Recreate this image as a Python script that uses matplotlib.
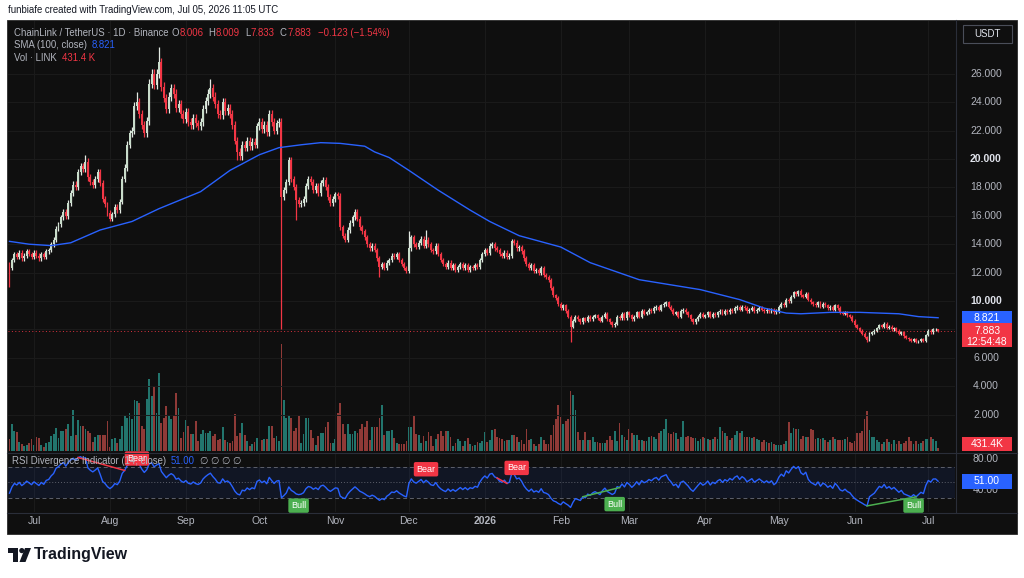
import datetime as dt
import numpy as np
import matplotlib
matplotlib.use("Agg")
import matplotlib.pyplot as plt
import matplotlib.dates as mdates
from matplotlib.patches import Rectangle, Polygon, Ellipse

W, H = 1024, 578
plt.rcParams['font.family'] = ['Liberation Sans', 'DejaVu Sans']

# ---------------- data ----------------
first_day = dt.date(2025, 6, 21)

# a few closes before the visible window, only used to warm up the RSI
warmup_closes = [13.9, 14.0, 13.8, 14.1, 13.6, 13.2, 13.7, 14.0, 14.6, 14.8,
                 14.9, 14.0, 13.3, 13.5, 13.4, 13.5, 13.1, 12.8, 12.9, 12.6]

closes = [
    12.3, 12.9, 13.3, 13.1, 13.4, 13.0, 13.2, 13.5, 13.3, 13.1,
    13.4, 13.2, 13.0, 13.3, 13.1, 13.5, 13.6, 14.0, 14.3, 15.1,
    15.4, 15.9, 16.3, 16.0, 16.9, 17.6, 18.2, 18.0, 19.1, 19.5,
    19.3, 19.8, 18.7, 18.4, 18.2, 18.6, 19.1, 18.3, 17.2, 16.8,
    16.2, 15.8, 16.1, 16.6, 16.4, 17.0, 18.6, 19.4, 21.0, 21.8,
    22.0, 23.7, 24.0, 23.2, 22.4, 21.8, 22.7, 25.3, 26.0, 25.2,
    26.0, 26.8, 25.1, 24.3, 23.5, 24.4, 25.0, 24.6, 23.6, 23.9,
    23.2, 22.8, 23.3, 22.6, 22.4, 22.9, 22.5, 22.3, 22.6, 23.5,
    24.1, 24.6, 25.0, 24.4, 23.9, 23.2, 23.1, 24.0, 23.4, 23.6,
    23.2, 22.4, 21.3, 20.5, 20.2, 21.0, 20.8, 21.3, 20.9, 21.2,
    21.0, 22.3, 22.6, 22.1, 22.4, 21.9, 23.2, 22.6, 22.0, 22.5,
    22.6, 17.3, 17.8, 18.4, 19.9, 18.6, 18.0, 17.1, 16.8, 16.9,
    17.2, 18.1, 18.6, 18.4, 17.8, 18.1, 17.6, 18.3, 18.5, 18.0,
    17.3, 16.9, 17.2, 17.5, 17.4, 15.2, 14.6, 14.3, 15.0, 15.5,
    15.9, 16.3, 15.8, 15.2, 14.9, 14.5, 14.0, 13.7, 13.9, 13.6,
    13.0, 12.4, 12.6, 12.3, 12.7, 12.9, 13.2, 13.1, 13.3, 12.9,
    12.6, 12.3, 12.1, 13.7, 14.5, 14.0, 13.8, 14.1, 14.4, 13.9,
    14.3, 14.0, 13.6, 13.5, 13.9, 13.3, 12.9, 12.6, 12.4, 12.7,
    12.3, 12.5, 12.2, 12.4, 12.6, 12.3, 12.5, 12.2, 12.4, 12.3,
    12.5, 12.4, 12.9, 13.3, 13.6, 13.4, 13.9, 14.0, 13.7, 13.6,
    13.3, 13.2, 13.4, 13.1, 13.2, 14.2, 14.1, 13.7, 13.8, 13.5,
    13.0, 12.6, 12.3, 12.5, 12.1, 12.2, 12.0, 12.3, 11.8, 11.7,
    11.5, 10.9, 10.4, 10.2, 9.8, 9.5, 9.7, 9.3, 8.9, 8.2,
    8.6, 8.9, 8.7, 8.5, 8.8, 8.6, 8.9, 8.7, 8.9, 9.0,
    8.8, 8.6, 8.9, 9.1, 8.7, 8.5, 8.3, 8.4, 8.9, 8.8,
    9.1, 8.8, 9.2, 9.0, 8.7, 8.9, 9.2, 8.9, 9.3, 9.1,
    9.2, 9.4, 9.3, 9.5, 9.6, 9.4, 9.7, 9.8, 9.9, 9.6,
    9.4, 9.1, 9.2, 8.9, 9.3, 9.4, 9.2, 9.0, 8.7, 8.5,
    8.7, 8.9, 9.1, 8.9, 9.0, 9.2, 8.9, 9.1, 9.0, 9.2,
    9.3, 9.1, 9.3, 9.2, 9.4, 9.3, 9.5, 9.6, 9.4, 9.6,
    9.5, 9.3, 9.4, 9.5, 9.3, 9.4, 9.5, 9.4, 9.3, 9.4,
    9.3, 9.4, 9.2, 9.3, 9.6, 9.8, 9.7, 10.1, 10.0, 10.3,
    10.6, 10.5, 10.7, 10.4, 10.3, 10.5, 10.1, 9.9, 9.8, 9.7,
    9.9, 9.6, 9.8, 9.7, 9.5, 9.6, 9.4, 9.7, 9.5, 9.2,
    9.1, 9.2, 9.0, 8.9, 8.6, 8.3, 8.1, 7.9, 7.7, 7.45,
    7.25, 7.7, 7.8, 7.9, 8.1, 8.3, 8.2, 8.4, 8.1, 8.2,
    8.0, 8.1, 7.9, 7.7, 7.8, 7.5, 7.4, 7.3, 7.2, 7.3,
    7.1, 7.2, 7.3, 7.2, 7.6, 7.9, 7.8, 8.0, 8.006, 7.883,
]

# volume in millions of LINK
volumes = [
    1.7, 3.9, 2.9, 2.7, 1.3, 1.0, 0.7, 0.9, 1.2, 1.7,
    0.9, 2.0, 1.9, 0.9, 0.6, 1.2, 1.3, 2.2, 2.4, 3.3,
    1.9, 2.9, 2.9, 3.2, 3.9, 2.2, 5.9, 2.3, 4.5, 3.6,
    3.6, 3.2, 2.9, 2.6, 1.3, 2.0, 2.3, 2.3, 2.3, 2.3,
    4.3, 0.6, 1.7, 1.9, 1.2, 1.7, 3.6, 5.0, 4.8, 5.5,
    4.6, 7.3, 7.2, 6.9, 3.6, 3.2, 7.5, 10.4, 7.9, 9.4,
    5.5, 11.2, 4.0, 4.8, 6.5, 5.2, 4.6, 5.2, 8.4, 6.2,
    1.9, 2.7, 4.5, 3.6, 2.4, 2.4, 4.3, 1.4, 2.4, 3.0,
    2.6, 2.6, 2.9, 2.2, 2.4, 1.6, 1.7, 3.5, 1.6, 1.3,
    1.2, 1.4, 5.3, 2.2, 2.6, 4.0, 2.3, 1.4, 0.7, 1.0,
    1.3, 1.9, 1.2, 1.6, 1.7, 1.7, 3.6, 3.6, 1.9, 2.2,
    1.4, 15.4, 7.3, 4.8, 5.2, 4.8, 2.9, 3.3, 5.0, 1.2,
    2.4, 4.8, 4.8, 3.0, 1.9, 0.9, 2.2, 2.6, 2.6, 3.5,
    4.2, 1.2, 1.2, 1.7, 5.5, 6.9, 3.9, 2.4, 3.9, 2.4,
    2.4, 2.9, 2.6, 3.2, 3.9, 3.5, 4.3, 1.6, 3.5, 3.5,
    3.5, 4.8, 6.6, 2.3, 2.9, 2.9, 3.0, 1.9, 1.2, 1.0,
    1.0, 1.0, 1.4, 3.5, 3.5, 5.0, 2.4, 2.3, 1.2, 2.2,
    1.4, 2.7, 2.2, 0.7, 1.7, 2.4, 2.9, 2.2, 2.9, 2.9,
    2.0, 0.7, 1.2, 1.7, 1.4, 0.7, 1.4, 1.9, 1.0, 0.7,
    0.9, 1.3, 1.2, 1.4, 2.7, 1.3, 1.6, 3.0, 3.2, 2.0,
    1.9, 1.7, 1.4, 1.6, 1.6, 2.3, 2.3, 2.0, 1.3, 1.6,
    1.0, 3.2, 1.6, 1.7, 1.0, 0.7, 1.0, 2.0, 1.6, 1.0,
    1.0, 2.3, 3.7, 4.6, 6.6, 4.9, 3.9, 4.3, 4.6, 8.6,
    8.1, 5.9, 2.7, 1.6, 1.6, 2.7, 1.6, 1.6, 2.0, 1.3,
    1.3, 1.2, 1.2, 1.2, 1.6, 2.2, 1.6, 2.9, 1.4, 4.0,
    2.3, 2.0, 1.6, 3.2, 2.6, 2.3, 2.3, 1.6, 1.6, 1.4,
    1.4, 2.0, 2.2, 2.0, 1.7, 2.6, 2.9, 3.2, 4.6, 2.6,
    2.4, 2.7, 2.6, 1.7, 2.0, 4.3, 2.0, 2.2, 2.0, 1.9,
    1.9, 1.4, 1.7, 2.0, 1.9, 1.7, 1.6, 1.7, 2.0, 1.7,
    3.5, 2.9, 2.6, 2.2, 1.6, 1.9, 2.3, 2.9, 2.6, 2.9,
    2.0, 2.0, 2.0, 1.9, 2.0, 1.7, 1.6, 1.3, 1.6, 1.3,
    1.2, 1.3, 1.0, 0.9, 0.9, 0.9, 1.0, 1.4, 4.2, 2.6,
    3.3, 3.2, 3.2, 1.7, 2.2, 2.0, 2.0, 3.2, 3.0, 1.7,
    1.9, 1.7, 1.9, 1.6, 1.3, 1.6, 2.0, 1.7, 1.6, 1.6,
    1.6, 1.7, 2.0, 1.3, 1.2, 1.4, 2.6, 2.6, 2.9, 4.6,
    5.8, 3.0, 2.0, 2.0, 1.6, 1.3, 1.0, 1.3, 1.7, 1.3,
    1.0, 1.6, 1.0, 1.4, 1.0, 1.2, 1.4, 2.0, 1.4, 1.0,
    1.4, 1.0, 1.2, 1.4, 1.7, 1.7, 2.0, 1.7, 1.4, 0.4314,
]

# notable wick extremes (day index -> price)
wick_high = {31: 20.3, 52: 24.7, 61: 27.9, 82: 25.6, 163: 14.9, 170: 15.0,
             268: 10.0, 322: 10.8, 379: 8.009}
wick_low = {0: 11.0, 93: 19.9, 111: 8.0, 117: 15.7, 151: 11.7, 229: 7.1,
            350: 7.1, 379: 7.833}

# SMA(100, close)
sma_days = [0, 8, 17, 25, 37, 50, 61, 78, 90, 102, 110, 119, 127, 135, 145,
            149, 155, 163, 175, 188, 196, 208, 225, 237, 257, 282, 298, 308,
            317, 323, 335, 347, 363, 371, 379]
sma_vals = [14.2, 14.0, 13.9, 14.1, 15.0, 15.6, 16.5, 17.7, 19.2, 20.3, 20.8,
            21.0, 21.15, 21.1, 20.9, 20.5, 20.1, 19.2, 17.8, 16.4, 15.6, 14.6,
            13.8, 12.7, 11.5, 10.8, 10.1, 9.5, 9.15, 9.1, 9.2, 9.2, 9.1, 8.9,
            8.821]

rsi_last = 51.00

# kind, first pivot, second pivot, label bar
divergences = [
    ("Bear", 28, 47, 52),
    ("Bull", None, None, 118),
    ("Bear", None, None, 170),
    ("Bear", 199, 203, 207),
    ("Bull", 234, 249, 247),
    ("Bull", 350, 370, 369),
]

month_ticks = [dt.date(2025, m, 1) for m in range(7, 13)] + \
              [dt.date(2026, m, 1) for m in range(1, 8)]
month_labels = ['Jul', 'Aug', 'Sep', 'Oct', 'Nov', 'Dec', '2026',
                'Feb', 'Mar', 'Apr', 'May', 'Jun', 'Jul']
price_ticks = [2, 4, 6, 8, 10, 12, 14, 16, 18, 20, 22, 24, 26]
rsi_ticks = [40, 80]

# ---------------- colours ----------------
BG = '#0f0f0f'
UP = '#c8dcca'
UP_WICK = '#e2e9e2'
DOWN = '#f23645'
VOL_UP = '#22756d'
VOL_DOWN = '#8f3a37'
BLUE = '#2962ff'
GREEN = '#4caf50'
TXT = '#b2b5be'
GRID = '#1b1b1b'
SEP = '#2a2e39'

# ---------------- derived series ----------------
closes = np.array(closes)
volumes = np.array(volumes)
n = len(closes)
x = np.array([mdates.date2num(first_day + dt.timedelta(days=i)) for i in range(n)])
opens = np.r_[warmup_closes[-1], closes[:-1]]
up = closes >= opens
WICK = 0.012
highs = np.maximum(opens, closes) * (1 + WICK)
lows = np.minimum(opens, closes) * (1 - WICK)
for k, v in wick_high.items():
    highs[k] = v
for k, v in wick_low.items():
    lows[k] = v

allc = np.r_[warmup_closes, closes]
diff = np.diff(allc)
gain = np.clip(diff, 0, None)
loss = np.clip(-diff, 0, None)
P = 14
ag, al = gain[:P].mean(), loss[:P].mean()
rsi_all = np.full(len(allc), np.nan)
rsi_all[P] = 100 - 100 / (1 + ag / al)
for k in range(P, len(diff)):
    ag = (ag * (P - 1) + gain[k]) / P
    al = (al * (P - 1) + loss[k]) / P
    rsi_all[k + 1] = 100 - 100 / (1 + ag / al)
rsi = rsi_all[len(warmup_closes):]

sma_x = [x[d] for d in sma_days]
tick_x = [mdates.date2num(d) for d in month_ticks]

# ---------------- layout ----------------
fig = plt.figure(figsize=(W / 100, H / 100), dpi=100)
fig.patch.set_facecolor('white')


def fpx(px, py):
    return px / W, 1 - py / H


def add_ax(x0, y0, x1, y1):
    a = fig.add_axes([x0 / W, 1 - y1 / H, (x1 - x0) / W, (y1 - y0) / H])
    a.set_facecolor('none')
    for s in a.spines.values():
        s.set_visible(False)
    a.set_xticks([])
    a.set_yticks([])
    return a


fig.add_artist(Rectangle(fpx(7, 534), 1010 / W, 514 / H, transform=fig.transFigure,
                         fc=BG, ec='#2b2b2b', lw=0.6, zorder=-5))

XL = (x[0] - 0.61, x[0] + 385.9)
PRICE_LIM = (-0.634, 29.718)
VOL_LIM = (0, 21.7)
RSI_LIM = (11.6, 87.7)

vax = add_ax(8, 300, 955, 451)
ax = add_ax(8, 21, 955, 452)
rax = add_ax(8, 453, 955, 512)
for a in (vax, ax, rax):
    a.set_xlim(XL)
ax.set_ylim(PRICE_LIM)
vax.set_ylim(VOL_LIM)
rax.set_ylim(RSI_LIM)
upp_price = (PRICE_LIM[1] - PRICE_LIM[0]) / 431
upp_vol = (VOL_LIM[1] - VOL_LIM[0]) / 151
upp_rsi = (RSI_LIM[1] - RSI_LIM[0]) / 59

# grid
for tx in tick_x:
    ax.axvline(tx, color=GRID, lw=0.7, zorder=0)
    rax.axvline(tx, color=GRID, lw=0.7, zorder=0)
for p in price_ticks:
    ax.axhline(p, color=GRID, lw=0.7, zorder=0)

# separators
for y in (452.5, 512.5):
    fig.add_artist(plt.Line2D([7 / W, 1017 / W], [1 - y / H] * 2, color=SEP, lw=0.8))
fig.add_artist(plt.Line2D([955.5 / W] * 2, [1 - 20 / H, 1 - 512 / H], color=SEP, lw=0.8))

# volume
vax.bar(x, volumes, width=0.74, color=np.where(up, VOL_UP, VOL_DOWN), lw=0)

# candles
body_lo = np.minimum(opens, closes)
body_h = np.maximum(np.abs(closes - opens), 0.06)
ax.vlines(x, lows, highs, colors=np.where(up, UP_WICK, DOWN), lw=0.9, zorder=2)
ax.bar(x, body_h, bottom=body_lo, width=0.8, color=np.where(up, UP, DOWN),
       lw=0, zorder=3)

# SMA and last price line
ax.plot(sma_x, sma_vals, color=BLUE, lw=1.0, zorder=4)
ax.axhline(closes[-1], color=DOWN, lw=0.7, ls=(0, (1, 2.5)), alpha=0.9, zorder=1)

# price axis labels
ytr = ax.get_yaxis_transform()
for p in price_ticks:
    bold = p in (10, 20)
    ax.text(1.0327, p, f"{p:.3f}", transform=ytr, ha='center', va='center',
            fontsize=7.5, color='#e0e3eb' if bold else TXT,
            fontweight='bold' if bold else 'normal', clip_on=False)

BX0, BXW = (962 - 8) / 947, 50 / 947


def side_box(a, upp, val, top_px, bot_px, fc, lines):
    tr = a.get_yaxis_transform()
    a.add_patch(Rectangle((BX0, val - bot_px * upp), BXW, (top_px + bot_px) * upp,
                          transform=tr, fc=fc, ec='none', clip_on=False, zorder=20))
    for s, off in lines:
        a.text(BX0 + BXW / 2, val - off * upp, s, transform=tr, ha='center',
               va='center', fontsize=7.5, color='white', clip_on=False, zorder=21)


side_box(ax, upp_price, sma_vals[-1], 7, 7, BLUE, [(f"{sma_vals[-1]:.3f}", 0)])
side_box(ax, upp_price, closes[-1], 8, 16, DOWN,
         [(f"{closes[-1]:.3f}", 0), ("12:54:48", 10.5)])
vol_lbl = max(volumes[-1], 7 * upp_vol)
side_box(vax, upp_vol, vol_lbl, 7, 7, DOWN, [(f"{volumes[-1] * 1000:.1f}K", 0)])

# USDT box
fig.add_artist(Rectangle(fpx(963, 43), 49 / W, 18 / H, transform=fig.transFigure,
                         fc=BG, ec='#4a4e59', lw=0.8))
fig.text(987.5 / W, 1 - 34 / H, "USDT", ha='center', va='center', fontsize=7,
         color='#e0e3eb')

# ---------------- RSI pane ----------------
rax.axhspan(30, 70, color=BLUE, alpha=0.09, lw=0, zorder=0)
for lvl, ls in ((70, (0, (4, 3))), (30, (0, (4, 3))), (50, (0, (1, 2)))):
    rax.axhline(lvl, color='#5d606b', lw=0.7, ls=ls, zorder=1)
rax.plot(x, rsi, color=BLUE, lw=1.0, zorder=3)
rtr = rax.get_yaxis_transform()
for t in rsi_ticks:
    rax.text(1.0327, t, f"{t:.2f}", transform=rtr, ha='center', va='center',
             fontsize=7.5, color=TXT, clip_on=False)
side_box(rax, upp_rsi, rsi_last, 7.5, 7.5, BLUE, [(f"{rsi_last:.2f}", 0)])

lab_top = RSI_LIM[1] - 5.5 * upp_rsi
lab_bot = RSI_LIM[0] + 5.5 * upp_rsi
for kind, a, b, lab in divergences:
    col = DOWN if kind == "Bear" else GREEN
    if a is not None:
        rax.plot([x[a], x[b]], [rsi[a], rsi[b]], color=col, lw=1.1, zorder=4)
    sgn = 1 if kind == "Bear" else -1
    ly = min(max(rsi[lab] + sgn * 11 * upp_rsi, lab_bot), lab_top)
    rax.text(x[lab], ly, kind, ha='center', va='center',
             fontsize=6.5, color='white', zorder=6,
             bbox=dict(boxstyle='round,pad=0.3,rounding_size=0.2', fc=col, ec='none'))

# time axis
for tx, lbl in zip(tick_x, month_labels):
    rax.text(tx, -0.16, lbl, transform=rax.get_xaxis_transform(), ha='center',
             va='center', fontsize=7.5, color=TXT,
             fontweight='bold' if lbl.isdigit() else 'normal', clip_on=False)

# ---------------- legends / header ----------------
renderer = fig.canvas.get_renderer()


def run(px, py, pieces, size=6.9):
    for s, col, gap in pieces:
        t = fig.text(px / W, 1 - py / H, s, color=col, fontsize=size,
                     ha='left', va='center')
        px = t.get_window_extent(renderer).x1 + gap


fig.text(8 / W, 1 - 10 / H, "funbiafe created with TradingView.com, Jul 05, 2026 11:05 UTC",
         fontsize=6.9, color='#131722', ha='left', va='center')

o, c = opens[-1], closes[-1]
chg = c - o
run(14, 33, [("ChainLink / TetherUS · 1D · Binance", TXT, 3),
             ("O", TXT, 0.5), (f"{o:.3f}", DOWN, 5),
             ("H", TXT, 0.5), (f"{highs[-1]:.3f}", DOWN, 5),
             ("L", TXT, 0.5), (f"{lows[-1]:.3f}", DOWN, 5),
             ("C", TXT, 0.5), (f"{c:.3f}", DOWN, 7),
             (f"{chg:+.3f} ({chg / o * 100:+.2f}%)".replace('-', '\u2212'), DOWN, 0)])
run(14, 45, [("SMA (100, close)", TXT, 5), (f"{sma_vals[-1]:.3f}", BLUE, 0)])
run(14, 58, [("Vol · LINK", TXT, 5), (f"{volumes[-1] * 1000:.1f} K", DOWN, 0)])
run(12, 461, [("RSI Divergence Indicator (14, close)", TXT, 5),
              (f"{rsi_last:.2f}", BLUE, 5), ("∅ ∅ ∅ ∅", TXT, 0)])

# ---------------- TradingView logo ----------------
ink = '#131722'
fig.add_artist(Polygon([fpx(8, 548), fpx(18, 548), fpx(18, 562), fpx(13, 562),
                        fpx(13, 553), fpx(8, 553)], closed=True,
                       transform=fig.transFigure, fc=ink, ec='none'))
fig.add_artist(Ellipse(fpx(21.8, 550.6), 5.2 / W, 5.2 / H,
                       transform=fig.transFigure, fc=ink, ec='none'))
fig.add_artist(Polygon([fpx(25, 548), fpx(31, 548), fpx(25.5, 562), fpx(19.5, 562)],
                       closed=True, transform=fig.transFigure, fc=ink, ec='none'))
fig.text(34 / W, 1 - 555 / H, "TradingView", fontsize=11.5, fontweight='bold',
         color=ink, ha='left', va='center')

fig.savefig("out.png", dpi=100, facecolor='white')
